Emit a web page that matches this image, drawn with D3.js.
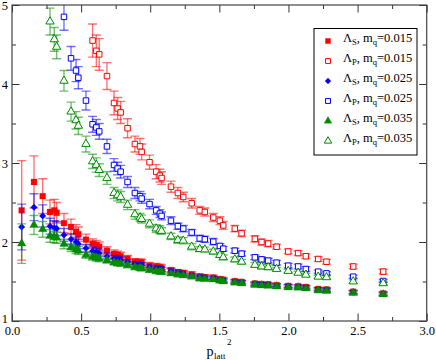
<!DOCTYPE html>
<html><head><meta charset="utf-8">
<script src="https://cdn.jsdelivr.net/npm/d3@7"></script>
<style>body{margin:0;background:#fff}svg{display:block;font-family:"Liberation Serif","Times New Roman",serif}</style>
</head><body><svg id="c" width="436" height="360"></svg>
<script>
// x values: lattice momentum squared
const pLatt2 = [0.070,0.159,0.222,0.275,0.306,0.323,0.376,0.427,0.463,0.480,0.535,0.583,0.610,0.631,0.687,0.738,0.764,0.786,0.836,0.889,0.926,0.938,0.995,1.043,1.070,1.082,1.150,1.200,1.239,1.300,1.358,1.395,1.456,1.504,1.528,1.612,1.661,1.757,1.805,1.853,1.914,1.998,2.070,2.126,2.215,2.275,2.468,2.685];

// Lambda_S, mq=0.015
const lamS015 = [2.40,2.76,2.58,2.38,2.40,2.37,2.24,2.19,2.13,2.10,2.03,1.98,1.96,1.94,1.89,1.85,1.835,1.82,1.79,1.75,1.745,1.74,1.70,1.69,1.68,1.67,1.645,1.62,1.61,1.59,1.565,1.555,1.55,1.53,1.52,1.505,1.495,1.475,1.47,1.465,1.455,1.445,1.44,1.43,1.405,1.40,1.37,1.35];
const errS015 = [0.63,0.33,0.22,0.15,0.14,0.13,0.12,0.10,0.09,0.09,0.07,0.06,0.06,0.06,0.05,0.05,0.05,0.05,0.04,0.04,0.04,0.04,0.04,0.04,0.04,0.04,0.03,0.03,0.03,0.03,0.03,0.03,0.03,0.03,0.03,0.02,0.02,0.02,0.02,0.02,0.02,0.02,0.02,0.02,0.02,0.02,0.02,0.02];
// Lambda_P, mq=0.015
const lamP015 = [null,null,null,null,null,null,null,null,null,null,null,4.55,4.42,4.375,4.10,3.76,3.69,3.64,3.44,3.24,3.21,3.14,3.01,2.89,2.84,2.81,2.70,2.62,2.57,2.49,2.40,2.38,2.31,2.27,2.21,2.17,2.11,2.04,2.00,1.98,1.94,1.88,1.86,1.82,1.785,1.75,1.69,1.625];
const errP015 = [0,0,0,0,0,0,0,0,0,0,0,0.21,0.20,0.20,0.17,0.15,0.14,0.14,0.12,0.10,0.10,0.10,0.09,0.09,0.08,0.08,0.07,0.07,0.06,0.06,0.05,0.05,0.05,0.05,0.05,0.04,0.04,0.04,0.04,0.04,0.03,0.03,0.03,0.03,0.03,0.03,0.03,0.03];
// Lambda_S, mq=0.025
const lamS025 = [2.19,2.44,2.33,2.20,2.18,2.17,2.09,2.035,2.00,1.975,1.92,1.886,1.87,1.857,1.82,1.79,1.78,1.77,1.745,1.72,1.71,1.705,1.68,1.665,1.66,1.65,1.63,1.61,1.60,1.58,1.56,1.55,1.545,1.525,1.515,1.50,1.49,1.47,1.465,1.46,1.45,1.44,1.435,1.425,1.40,1.395,1.365,1.345];
const errS025 = [0.29,0.17,0.14,0.10,0.09,0.09,0.08,0.07,0.06,0.06,0.05,0.05,0.05,0.04,0.04,0.04,0.04,0.04,0.03,0.03,0.03,0.03,0.03,0.03,0.03,0.03,0.03,0.03,0.02,0.02,0.02,0.02,0.02,0.02,0.02,0.02,0.02,0.02,0.02,0.02,0.02,0.02,0.02,0.02,0.02,0.02,0.02,0.02];
// Lambda_P, mq=0.025
const lamP025 = [null,null,null,null,null,null,4.85,4.325,4.17,4.08,3.79,3.49,3.45,3.40,3.21,2.975,2.93,2.89,2.76,2.62,2.58,2.55,2.48,2.40,2.36,2.33,2.27,2.20,2.17,2.12,2.045,2.035,2.004,1.95,1.915,1.89,1.852,1.806,1.78,1.764,1.738,1.70,1.69,1.658,1.624,1.603,1.561,1.506];
const errP025 = [0,0,0,0,0,0,0.17,0.15,0.14,0.14,0.12,0.10,0.10,0.10,0.09,0.08,0.08,0.08,0.07,0.07,0.06,0.06,0.06,0.05,0.05,0.05,0.05,0.04,0.04,0.04,0.04,0.04,0.04,0.03,0.03,0.03,0.03,0.03,0.03,0.03,0.03,0.03,0.03,0.03,0.02,0.02,0.02,0.02];
// Lambda_S, mq=0.035
const lamS035 = [1.98,2.215,2.16,2.076,2.06,2.055,1.975,1.93,1.905,1.89,1.835,1.81,1.80,1.79,1.765,1.74,1.73,1.725,1.705,1.68,1.67,1.665,1.645,1.63,1.625,1.62,1.60,1.585,1.575,1.56,1.535,1.53,1.525,1.51,1.50,1.485,1.475,1.455,1.45,1.445,1.435,1.425,1.42,1.41,1.385,1.38,1.355,1.335];
const errS035 = [0.25,0.12,0.10,0.08,0.07,0.07,0.06,0.05,0.05,0.05,0.04,0.04,0.04,0.04,0.03,0.03,0.03,0.03,0.03,0.03,0.03,0.03,0.03,0.03,0.03,0.03,0.02,0.02,0.02,0.02,0.02,0.02,0.02,0.02,0.02,0.02,0.02,0.02,0.02,0.02,0.02,0.02,0.02,0.02,0.02,0.02,0.02,0.02];
// Lambda_P, mq=0.035
const lamP035 = [null,null,null,4.79,4.565,4.47,4.04,3.65,3.54,3.47,3.24,3.02,2.975,2.91,2.81,2.62,2.59,2.57,2.47,2.35,2.31,2.29,2.23,2.17,2.155,2.14,2.07,2.025,2.016,1.94,1.91,1.905,1.878,1.835,1.806,1.78,1.75,1.71,1.69,1.68,1.658,1.633,1.61,1.585,1.56,1.553,1.50,1.477];
const errP035 = [0,0,0,0.17,0.15,0.15,0.13,0.12,0.11,0.11,0.10,0.09,0.09,0.08,0.08,0.07,0.07,0.07,0.06,0.06,0.05,0.05,0.05,0.05,0.05,0.04,0.04,0.04,0.04,0.04,0.03,0.03,0.03,0.03,0.03,0.03,0.03,0.03,0.03,0.03,0.02,0.02,0.02,0.02,0.02,0.02,0.02,0.02];

const xTicks = [0,0.5,1,1.5,2,2.5,3];
const xMinor = [0.25,0.75,1.25,1.75,2.25,2.75];
const yTicks = [1,2,3,4,5];
const yMinor = [1.5,2.5,3.5,4.5];

const RED="#ff0000", BLUE="#0000ff", GREEN="#008b00";
const series = [
  {y:lamS015, e:errS015, color:RED,   sym:d3.symbolSquare,   size:34, rot:0,  filled:true,  lab:["S","0.015"]},
  {y:lamP015, e:errP015, color:RED,   sym:d3.symbolSquare,   size:30, rot:0,  filled:false, lab:["P","0.015"]},
  {y:lamS025, e:errS025, color:BLUE,  sym:d3.symbolSquare,   size:22, rot:45, filled:true,  lab:["S","0.025"]},
  {y:lamP025, e:errP025, color:BLUE,  sym:d3.symbolSquare,   size:30, rot:0,  filled:false, lab:["P","0.025"]},
  {y:lamS035, e:errS035, color:GREEN, sym:d3.symbolTriangle, size:32, rot:0,  filled:true,  lab:["S","0.035"]},
  {y:lamP035, e:errP035, color:GREEN, sym:d3.symbolTriangle, size:30, rot:0,  filled:false, lab:["P","0.035"]}
];

const L=12, R=426.7, T=5, B=321;
const x = d3.scaleLinear().domain([0,3]).range([L,R]);
const y = d3.scaleLinear().domain([1,5]).range([B,T]);
const svg = d3.select("#c");
svg.append("rect").attr("width",436).attr("height",360).attr("fill","#fff");
svg.append("defs").append("clipPath").attr("id","clip")
  .append("rect").attr("x",L).attr("y",T).attr("width",R-L).attr("height",B-T);

const plot = svg.append("g").attr("clip-path","url(#clip)");
series.forEach(s=>{
  const pts = pLatt2.map((p,i)=>({p, v:s.y[i], e:s.e[i]})).filter(d=>d.v!=null);
  const g = plot.append("g");
  const eb = g.append("g").attr("stroke",s.color).attr("stroke-opacity",0.55).attr("stroke-width",1.4).attr("fill","none");
  pts.forEach(d=>{
    const xx=x(d.p), y1=y(d.v+d.e), y2=y(d.v-d.e);
    eb.append("line").attr("x1",xx).attr("x2",xx).attr("y1",y1).attr("y2",y2);
    eb.append("line").attr("x1",xx-4.5).attr("x2",xx+4.5).attr("y1",y1).attr("y2",y1);
    eb.append("line").attr("x1",xx-4.5).attr("x2",xx+4.5).attr("y1",y2).attr("y2",y2);
  });
  g.selectAll("path.m").data(pts).join("path").attr("class","m")
    .attr("d",d3.symbol(s.sym,s.size))
    .attr("transform",d=>`translate(${x(d.p)},${y(d.v)}) rotate(${s.rot})`)
    .attr("fill",s.filled?s.color:"#fff")
    .attr("stroke",s.color).attr("stroke-width",s.filled?0.3:1);
});

// axes
function styleAxis(g){
  g.select(".domain").remove();
  g.attr("font-family",'"Liberation Serif","Times New Roman",serif').attr("font-size",12.5);
  g.selectAll("line").attr("stroke","#333");
  g.selectAll("text").attr("fill","#000");
}
svg.append("g").attr("transform",`translate(0,${B})`)
  .call(d3.axisBottom(x).tickValues(xTicks).tickSize(-7.5).tickPadding(5).tickFormat(d3.format(".1f"))).call(styleAxis);
svg.append("g").attr("transform",`translate(0,${B})`)
  .call(d3.axisBottom(x).tickValues(xMinor).tickSize(-4).tickFormat("")).call(styleAxis);
svg.append("g").attr("transform",`translate(0,${T})`)
  .call(d3.axisTop(x).tickValues(xTicks).tickSize(-7.5).tickFormat("")).call(styleAxis);
svg.append("g").attr("transform",`translate(0,${T})`)
  .call(d3.axisTop(x).tickValues(xMinor).tickSize(-4).tickFormat("")).call(styleAxis);
const yAx = svg.append("g").attr("transform",`translate(${L},0)`)
  .call(d3.axisLeft(y).tickValues(yTicks).tickSize(-7.5).tickPadding(4).tickFormat(d3.format("d"))).call(styleAxis);
yAx.selectAll(".tick text").filter(d=>d===1).attr("dy","0.12em");
svg.append("g").attr("transform",`translate(${L},0)`)
  .call(d3.axisLeft(y).tickValues(yMinor).tickSize(-4).tickFormat("")).call(styleAxis);
svg.append("g").attr("transform",`translate(${R},0)`)
  .call(d3.axisRight(y).tickValues(yTicks).tickSize(-7.5).tickFormat("")).call(styleAxis);
svg.append("g").attr("transform",`translate(${R},0)`)
  .call(d3.axisRight(y).tickValues(yMinor).tickSize(-4).tickFormat("")).call(styleAxis);

svg.append("rect").attr("x",L).attr("y",T).attr("width",R-L).attr("height",B-T)
  .attr("fill","none").attr("stroke","#444").attr("stroke-width",1.2);

// axis title
const ttl = svg.append("g").attr("fill","#000");
ttl.append("text").attr("x",206.5).attr("y",356).attr("font-size",14).text("p");
ttl.append("text").attr("x",214).attr("y",358.5).attr("font-size",9).text("latt");
ttl.append("text").attr("x",227).attr("y",345).attr("font-size",9).text("2");

// legend
const lg = svg.append("g");
lg.append("rect").attr("x",314).attr("y",28.5).attr("width",103).attr("height",126.5)
  .attr("fill","#fff").attr("stroke","#000").attr("stroke-width",1);
series.forEach((s,i)=>{
  const cy = 41 + 20*i;
  lg.append("path").attr("d",d3.symbol(s.sym,s.size*0.8)).attr("transform",`translate(328,${cy}) rotate(${s.rot})`)
    .attr("fill",s.filled?s.color:"#fff").attr("stroke",s.color).attr("stroke-width",s.filled?0.3:1);
  const t = lg.append("text").attr("x",343).attr("y",cy+1).attr("font-size",12.5).attr("fill","#000");
  t.append("tspan").text("Λ");
  t.append("tspan").attr("font-size",8.5).attr("dy",3).text(s.lab[0]);
  t.append("tspan").attr("dy",-3).text(", m");
  t.append("tspan").attr("font-size",8.5).attr("dy",3).text("q");
  t.append("tspan").attr("dy",-3).text("=" + s.lab[1]);
});
</script></body></html>
